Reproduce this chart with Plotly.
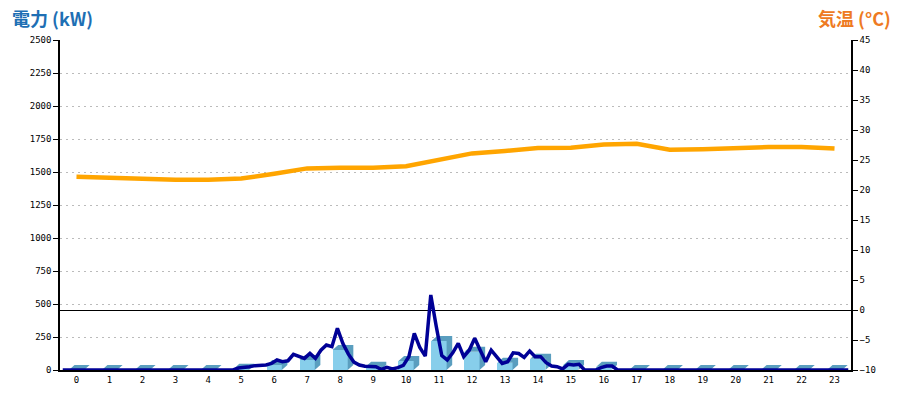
import plotly.graph_objects as go

# ---- data ----
hours = list(range(24))
hour_labels = [str(h) for h in hours]

# hourly bar values (kW)
bar_kw = [0, 0, 0, 0, 0, 10, 38, 76, 151, 25, 68, 220,
          139, 55, 86, 38, 25, 0, 0, 0, 0, 0, 0, 0]

# hourly temperature (deg C)
temp_c = [22.2, 22.0, 21.85, 21.7, 21.7, 21.9, 22.7, 23.6, 23.7, 23.7, 23.95, 25.0,
          26.1, 26.5, 27.0, 27.05, 27.6, 27.7, 26.7, 26.8, 27.0, 27.15, 27.15, 26.9]

# 10-minute power readings (kW), six per hour
power_10min = [
    0, 0, 0, 0, 0, 0,          # 0
    0, 0, 0, 0, 0, 0,          # 1
    0, 0, 0, 0, 0, 0,          # 2
    0, 0, 0, 0, 0, 0,          # 3
    0, 0, 0, 0, 0, 0,          # 4
    0, 0, 15, 18, 25, 33,      # 5
    33, 38, 50, 76, 63, 70,    # 6
    118, 100, 88, 126, 88, 150,  # 7
    189, 177, 316, 200, 120, 60,  # 8
    38, 28, 25, 25, 5, 20,     # 9
    8, 18, 35, 100, 278, 170,  # 10
    105, 568, 330, 110, 76, 130,  # 11
    202, 101, 150, 240, 150, 63,  # 12
    150, 100, 50, 63, 130, 125,  # 13
    95, 144, 101, 101, 55, 30,  # 14
    25, 8, 43, 38, 43, 0,      # 15
    0, 0, 18, 30, 30, 0,       # 16
    0, 0, 0, 0, 0, 0,          # 17
    0, 0, 0, 0, 0, 0,          # 18
    0, 0, 0, 0, 0, 0,          # 19
    0, 0, 0, 0, 0, 0,          # 20
    0, 0, 0, 0, 0, 0,          # 21
    0, 0, 0, 0, 0, 0,          # 22
    0, 0, 0, 0, 0, 0,          # 23
]
slots = list(range(len(power_10min)))

# ---- styling ----
BAR_W = 0.46      # front face width (category units)
DEPTH_X = 0.17    # 3D depth, category units
DEPTH_Y = 38      # 3D depth, kW units
FRONT = "#87CEEB"
DARK = "#5A9EBF"
TICK_FONT = dict(family="DejaVu Sans Mono", size=9, color="black")

fig = go.Figure()

# front faces
fig.add_trace(go.Bar(x=hours, y=bar_kw, width=BAR_W, marker=dict(color=FRONT, line=dict(width=0)),
                     xaxis="x", yaxis="y", showlegend=False, hoverinfo="skip"))

# top + side faces (3D effect) derived from the bar values
px, py = [], []
for h, v in zip(hours, bar_kw):
    l, r = h - BAR_W / 2, h + BAR_W / 2
    px += [l, r, r, r + DEPTH_X, r + DEPTH_X, l + DEPTH_X, l, None]
    py += [v, v, 0, DEPTH_Y, v + DEPTH_Y, v + DEPTH_Y, v, None]
fig.add_trace(go.Scatter(x=px, y=py, mode="lines", fill="toself", fillcolor=DARK,
                         line=dict(width=0, color=DARK), xaxis="x", yaxis="y",
                         showlegend=False, hoverinfo="skip"))

# power line
fig.add_trace(go.Scatter(x=slots, y=power_10min, mode="lines",
                         line=dict(color="#000096", width=3.5),
                         xaxis="x2", yaxis="y", showlegend=False))

# temperature line
fig.add_trace(go.Scatter(x=hours, y=temp_c, mode="lines",
                         line=dict(color="#FFA500", width=4.5),
                         xaxis="x", yaxis="y2", showlegend=False))

fig.update_layout(
    width=900, height=400,
    margin=dict(l=60, r=49, t=40, b=30),
    paper_bgcolor="white", plot_bgcolor="white",
    bargap=0,
    xaxis=dict(range=[-0.5, 23.5], tickmode="array", tickvals=hours, ticktext=hour_labels,
               showgrid=False, zeroline=False, showline=True, linecolor="black", linewidth=1.5,
               ticks="", tickfont=TICK_FONT),
    xaxis2=dict(range=[-0.5, 143.5], overlaying="x", visible=False),
    yaxis=dict(range=[0, 2500], tickmode="linear", tick0=0, dtick=250,
               showgrid=True, gridcolor="#BBBBBB", griddash="2px,4px", gridwidth=1,
               zeroline=False, showline=True, linecolor="black", linewidth=1.5,
               ticks="outside", ticklen=5, tickcolor="black", tickfont=TICK_FONT),
    yaxis2=dict(range=[-10, 45], tickmode="linear", tick0=-10, dtick=5, overlaying="y", side="right",
                showgrid=False, zeroline=True, zerolinecolor="black", zerolinewidth=1.2,
                showline=True, linecolor="black", linewidth=1.5,
                ticks="outside", ticklen=5, tickcolor="black", tickfont=TICK_FONT),
    annotations=[
        dict(text="<b>電力 (kW)</b>", xref="paper", yref="paper", x=-0.0632, y=1.067,
             xanchor="left", yanchor="middle", showarrow=False,
             font=dict(family="Noto Sans CJK JP", size=18, color="#1E6FB4")),
        dict(text="<b>気温 (°C)</b>", xref="paper", yref="paper", x=1.053, y=1.067,
             xanchor="right", yanchor="middle", showarrow=False,
             font=dict(family="Noto Sans CJK JP", size=18, color="#EE7A22")),
    ],
)

fig.write_html("out.html", config={"displayModeBar": False},
               post_script="document.body.style.margin='0';document.body.style.overflow='hidden';")
